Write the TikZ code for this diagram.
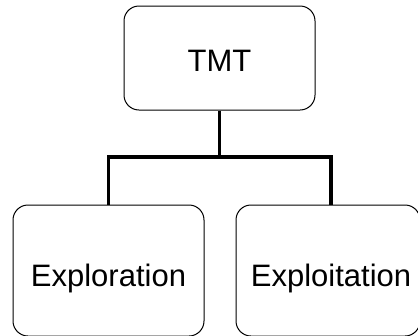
\documentclass[tikz,border=0pt]{standalone}
\usepackage{fontspec}
\setmainfont{Liberation Sans}
\begin{document}
\begin{tikzpicture}[x=1pt,y=-1pt,
  box/.style={draw=black, line width=1pt, rounded corners=15pt, inner sep=0pt,
    font=\fontsize{31}{37}\selectfont, text depth=0pt},
  conn/.style={draw=black, line width=3.6pt, line join=miter}]
  \useasboundingbox (0,0) rectangle (418,335);
  \clip (0,0) rectangle (418,335);
  % parent and the two children
  \node[box, minimum width=191pt, minimum height=104pt, text height=27pt]
    (tmt) at (219.5,58) {TMT};
  \node[box, minimum width=191pt, minimum height=131pt, text height=31pt]
    (expl) at (108.5,270.5) {Exploration};
  \node[box, minimum width=184pt, minimum height=131pt, text height=31pt]
    (expt) at (328,270.5) {\hspace*{6pt}Exploitation};
  % tree connector
  \coordinate (split) at (219.5,157);
  \coordinate (rdrop) at (331,157);
  \draw[conn] (tmt.south) -- (split);
  \draw[conn] (expl.north) |- (split) -- (rdrop) -- (rdrop |- expt.north);
\end{tikzpicture}
\end{document}
